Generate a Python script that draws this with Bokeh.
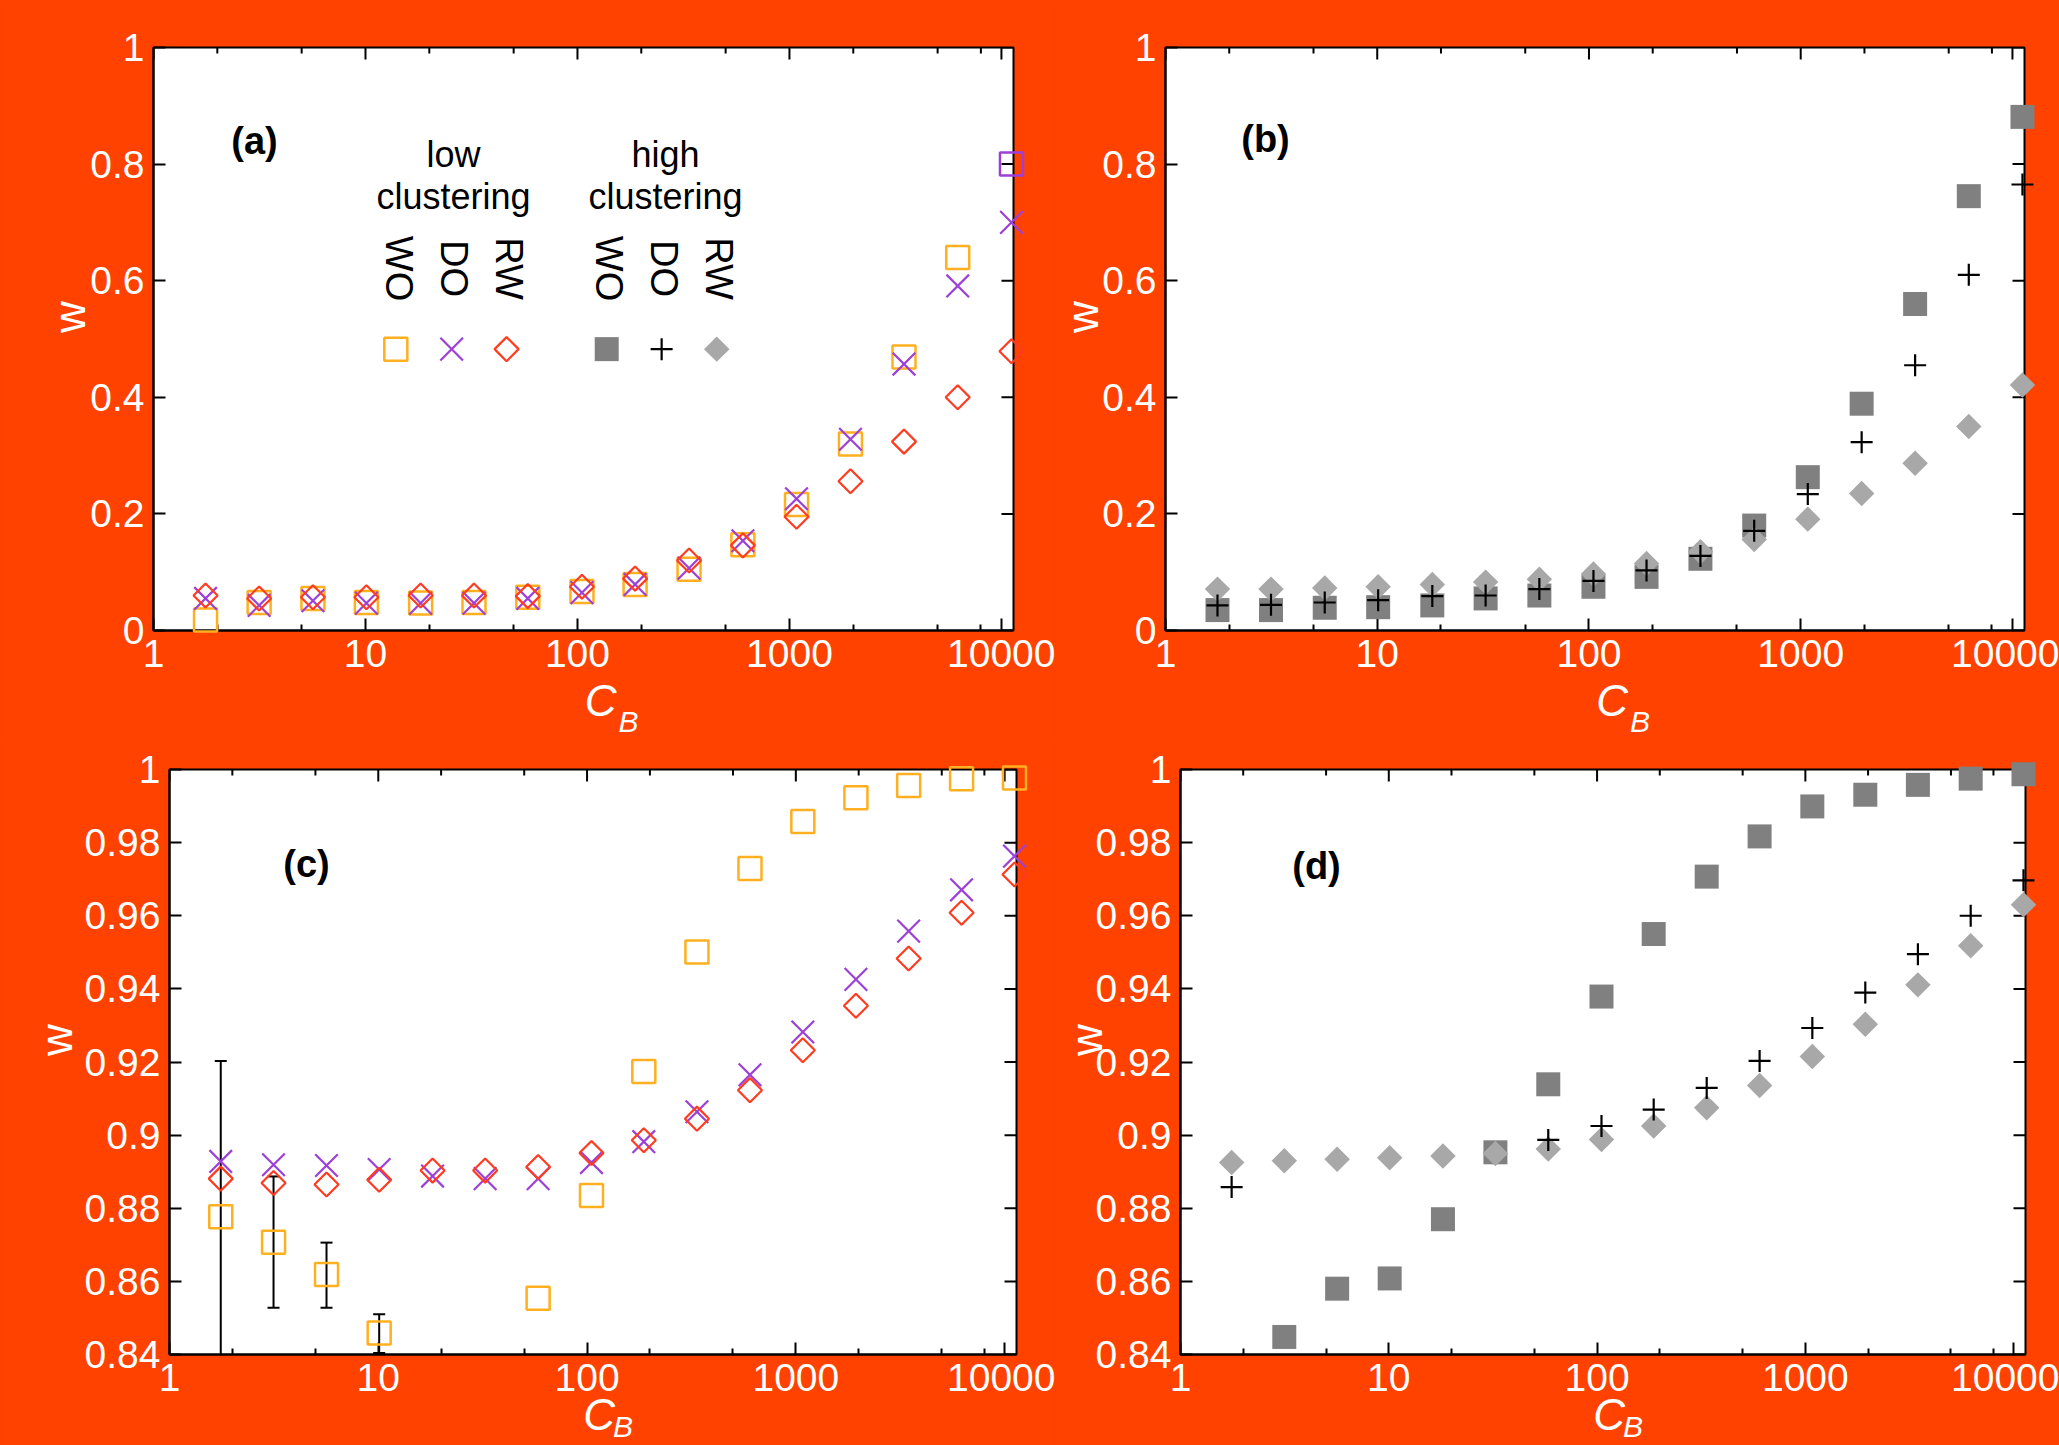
import math
from bokeh.plotting import figure
from bokeh.models import Range1d, FixedTicker, LogAxis, Label, PrintfTickFormatter
from bokeh.layouts import column, row
from bokeh.embed import file_html
from bokeh.resources import INLINE

nan = float("nan")

# ---------------- data ----------------
cb = [1.76, 3.15, 5.65, 10.1, 18.2, 32.5, 58.3, 105, 187, 336, 603, 1080, 1940, 3470, 6220, 11150]

# (a) low clustering, w
a_wo = [0.018, 0.048, 0.055, 0.048, 0.047, 0.048, 0.057, 0.067, 0.079, 0.105, 0.147, 0.216, 0.320, 0.469, 0.640, 0.800]
a_do = [0.055, 0.043, 0.051, 0.047, 0.047, 0.047, 0.055, 0.065, 0.079, 0.107, 0.154, 0.226, 0.328, 0.457, 0.591, 0.700]
a_rw = [0.060, 0.055, 0.057, 0.057, 0.060, 0.060, 0.059, 0.075, 0.089, 0.120, 0.146, 0.195, 0.256, 0.324, 0.400, 0.479]

# (b) high clustering, w
b_wo = [0.035, 0.035, 0.039, 0.040, 0.043, 0.055, 0.060, 0.075, 0.092, 0.123, 0.180, 0.263, 0.389, 0.560, 0.745, 0.881]
b_do = [0.043, 0.044, 0.048, 0.052, 0.059, 0.060, 0.071, 0.085, 0.103, 0.128, 0.171, 0.234, 0.323, 0.455, 0.610, 0.765]
b_rw = [0.071, 0.071, 0.073, 0.075, 0.079, 0.083, 0.088, 0.097, 0.115, 0.135, 0.156, 0.191, 0.235, 0.287, 0.350, 0.421]

# (c) low clustering, w (zoom)
c_wo = [0.8777, 0.8707, 0.8619, 0.8459, nan, nan, 0.8554, 0.8835, 0.9174, 0.9501, 0.9729, 0.9858, 0.9923, 0.9956, 0.9975, 0.9977]
c_wo_lo = [0.830, 0.8528, 0.8528, 0.8404, nan, nan, nan, nan, nan, nan, nan, nan, nan, nan, nan, nan]
c_wo_hi = [0.9203, 0.8887, 0.8706, 0.8510, nan, nan, nan, nan, nan, nan, nan, nan, nan, nan, nan, nan]
c_do = [0.8928, 0.8919, 0.8917, 0.8906, 0.8888, 0.8881, 0.8881, 0.8925, 0.8982, 0.9064, 0.9165, 0.9282, 0.9426, 0.9558, 0.9671, 0.9763]
c_rw = [0.8881, 0.8869, 0.8865, 0.8878, 0.8903, 0.8903, 0.8913, 0.8951, 0.8986, 0.9045, 0.9123, 0.9232, 0.9354, 0.9483, 0.9608, 0.9713]

# (d) high clustering, w (zoom)
d_wo = [nan, 0.8448, 0.8580, 0.8608, 0.8770, 0.8953, 0.9139, 0.9379, 0.9550, 0.9707, 0.9817, 0.9899, 0.9931, 0.9958, 0.9975, 0.9987]
d_do = [0.8858, nan, nan, nan, nan, nan, 0.8987, 0.9025, 0.9070, 0.9129, 0.9203, 0.9293, 0.9390, 0.9495, 0.9600, 0.9697]
d_rw = [0.8925, 0.8930, 0.8934, 0.8938, 0.8943, 0.8950, 0.8962, 0.8988, 0.9025, 0.9075, 0.9136, 0.9215, 0.9303, 0.9411, 0.9518, 0.9630]

x_ticks = [1, 10, 100, 1000, 10000]
x_minor = [2, 5, 20, 50, 200, 500, 2000, 5000, 8000]
x_range = (1, 11400)
y_ticks_full = [0, 0.2, 0.4, 0.6, 0.8, 1]
y_ticks_zoom = [0.84, 0.86, 0.88, 0.9, 0.92, 0.94, 0.96, 0.98, 1]

legend_groups = ["low", "high"]
legend_names = ["WO", "DO", "RW"]

# ---------------- style ----------------
BG = "#FF4200"
ORANGE = "#FFB020"
PURPLE = "#9D40D8"
RED = "#FF3B20"
DARK = "#808080"
LIGHT = "#A8A8A8"
FONT = "Liberation Sans"
EM = "\u2003"
EN = "\u2002"
NB = "\u00a0"


def style_axis(ax, ticks, minor):
    ax.ticker = FixedTicker(ticks=ticks, minor_ticks=minor)
    ax.formatter = PrintfTickFormatter(format="%g")
    ax.major_tick_in = 12
    ax.major_tick_out = 0
    ax.minor_tick_in = 6
    ax.minor_tick_out = 0
    ax.major_tick_line_color = "black"
    ax.major_tick_line_width = 2
    ax.minor_tick_line_color = "black"
    ax.minor_tick_line_width = 2
    ax.axis_line_color = "black"
    ax.axis_line_width = 2
    ax.major_label_text_color = "white"
    ax.major_label_text_font = FONT
    ax.major_label_text_font_size = "39px"
    ax.major_label_standoff = 9


def make_panel(w, h, bl, bt, br, bb, yr, yticks,
               wlabel, wstand, clabel, cstand, blabel, bstand):
    p = figure(width=w, height=h, x_axis_type="log",
               x_range=Range1d(*x_range), y_range=Range1d(*yr),
               output_backend="svg", toolbar_location=None,
               min_border_left=bl, min_border_top=bt,
               min_border_right=br, min_border_bottom=bb)
    p.border_fill_color = BG
    p.background_fill_color = "white"
    p.outline_line_color = "black"
    p.outline_line_width = 2
    p.xgrid.visible = False
    p.ygrid.visible = False
    xa = p.xaxis[0]
    ya = p.yaxis[0]
    style_axis(xa, x_ticks, x_minor)
    style_axis(ya, yticks, [])
    # axis titles
    ya.axis_label = wlabel
    ya.axis_label_standoff = wstand
    ya.axis_label_text_color = "white"
    ya.axis_label_text_font = FONT
    ya.axis_label_text_font_style = "normal"
    ya.axis_label_text_font_size = "44px"
    xa.axis_label = clabel
    xa.axis_label_standoff = cstand
    xa.axis_label_text_color = "white"
    xa.axis_label_text_font = FONT
    xa.axis_label_text_font_style = "italic"
    xa.axis_label_text_font_size = "44px"
    # subscript B as the label of a bare second bottom axis
    sub = LogAxis(ticker=FixedTicker(ticks=[]), axis_line_color=None,
                  major_tick_line_color=None, minor_tick_line_color=None,
                  axis_label=blabel, axis_label_standoff=bstand,
                  axis_label_text_color="white", axis_label_text_font=FONT,
                  axis_label_text_font_style="italic", axis_label_text_font_size="30px")
    p.add_layout(sub, "below")
    # mirrored ticks on top and right edges (outer half clipped by the frame)
    p.scatter(x_ticks, [yr[1]] * len(x_ticks), marker="dash", angle=math.pi / 2, size=24,
              line_color="black", line_width=2)
    p.scatter(x_minor, [yr[1]] * len(x_minor), marker="dash", angle=math.pi / 2, size=12,
              line_color="black", line_width=2)
    p.scatter([x_range[1]] * len(yticks), yticks, marker="dash", size=24,
              line_color="black", line_width=2)
    return p


def panel_tag(p, txt, x, y):
    p.add_layout(Label(x=x, y=y, x_units="screen", y_units="screen", text=txt,
                       text_align="center", text_baseline="middle", text_font_style="bold",
                       text_color="black", text_font=FONT, text_font_size="38px"))


def low_markers(p, x, wo, do, rw, last_purple=False):
    n = len(x) - 1 if last_purple else len(x)
    p.scatter(x[:n], wo[:n], marker="square", size=23, fill_color=None,
              line_color=ORANGE, line_width=2.5, level="overlay")
    if last_purple:
        p.scatter(x[n:], wo[n:], marker="square", size=23, fill_color=None,
                  line_color=PURPLE, line_width=2.5, level="overlay")
    p.scatter(x, do, marker="x", size=32, line_color=PURPLE, line_width=2.2, level="overlay")
    p.scatter(x, rw, marker="square", angle=math.pi / 4, size=17, fill_color=None,
              line_color=RED, line_width=2.2, level="overlay")


def high_markers(p, x, wo, do, rw):
    p.scatter(x, wo, marker="square", size=24, fill_color=DARK, line_color=None, level="overlay")
    p.scatter(x, rw, marker="square", angle=math.pi / 4, size=18, fill_color=LIGHT,
              line_color=None, level="overlay")
    p.scatter(x, do, marker="cross", size=22, line_color="black", line_width=2.2, level="overlay")


# ---------------- panel (a) ----------------
pa = make_panel(1055, 740, 153, 47, 42, 106, (0, 1), y_ticks_full,
                EM + "w", -7, EN + NB + "C", 6, EM + EM + EM + "B", -23)
low_markers(pa, cb, a_wo, a_do, a_rw, last_purple=True)
panel_tag(pa, "(a)", 101, 490)

# legend inside (a)
for txt, gx in zip(legend_groups, [300, 512]):
    pa.add_layout(Label(x=gx, y=476, x_units="screen", y_units="screen", text=txt,
                        text_align="center", text_baseline="middle", text_color="black",
                        text_font=FONT, text_font_size="36px"))
    pa.add_layout(Label(x=gx, y=434, x_units="screen", y_units="screen", text="clustering",
                        text_align="center", text_baseline="middle", text_color="black",
                        text_font=FONT, text_font_size="36px"))
for nm, lx in zip(legend_names + legend_names, [245, 300, 355, 455, 510, 565]):
    pa.add_layout(Label(x=lx, y=362, x_units="screen", y_units="screen", text=nm,
                        angle=-math.pi / 2, text_align="center", text_baseline="middle",
                        text_color="black", text_font=FONT, text_font_size="38px"))
key_x = [13.9, 25.5, 46.3, 137.4, 249.5, 454.0]
key_y = [0.4826] * 6
pa.scatter(key_x[0:1], key_y[0:1], marker="square", size=23, fill_color=None, line_color=ORANGE, line_width=2.5)
pa.scatter(key_x[1:2], key_y[1:2], marker="x", size=32, line_color=PURPLE, line_width=2.2)
pa.scatter(key_x[2:3], key_y[2:3], marker="square", angle=math.pi / 4, size=17, fill_color=None, line_color=RED, line_width=2.2)
pa.scatter(key_x[3:4], key_y[3:4], marker="square", size=24, fill_color=DARK, line_color=None)
pa.scatter(key_x[4:5], key_y[4:5], marker="cross", size=22, line_color="black", line_width=2.2)
pa.scatter(key_x[5:6], key_y[5:6], marker="square", angle=math.pi / 4, size=18, fill_color=LIGHT, line_color=None)

# ---------------- panel (b) ----------------
pb = make_panel(1004, 740, 108, 46, 35, 107, (0, 1), y_ticks_full,
                EM + "w", -8, EN + NB + "C", 6, EM + EM + EM + "B", -23)
high_markers(pb, cb, b_wo, b_do, b_rw)
panel_tag(pb, "(b)", 100, 492)

# ---------------- panel (c) ----------------
pc = make_panel(1055, 705, 169, 29, 39, 88, (0.84, 1.0), y_ticks_zoom,
                EM + "w", 1, NB + "C", -4, EM + EM + "B", -32)
pc.segment(x0=cb, y0=c_wo_lo, x1=cb, y1=c_wo_hi, line_color="black", line_width=2)
pc.scatter(cb, c_wo_lo, marker="dash", size=12, line_color="black", line_width=2)
pc.scatter(cb, c_wo_hi, marker="dash", size=12, line_color="black", line_width=2)
low_markers(pc, cb, c_wo, c_do, c_rw)
panel_tag(pc, "(c)", 137, 491)

# ---------------- panel (d) ----------------
pd_ = make_panel(1004, 705, 125, 28, 34, 90, (0.84, 1.0), y_ticks_zoom,
                 EM + "w", -18, NB + "C", -4, EM + EM + "B", -32)
high_markers(pd_, cb, d_wo, d_do, d_rw)
panel_tag(pd_, "(d)", 136, 489)

layout = column(row(pa, pb, spacing=0, styles={"background-color": BG}),
                row(pc, pd_, spacing=0, styles={"background-color": BG}),
                spacing=0, styles={"background-color": BG})

with open("out.html", "w") as f:
    f.write(file_html(layout, INLINE))
